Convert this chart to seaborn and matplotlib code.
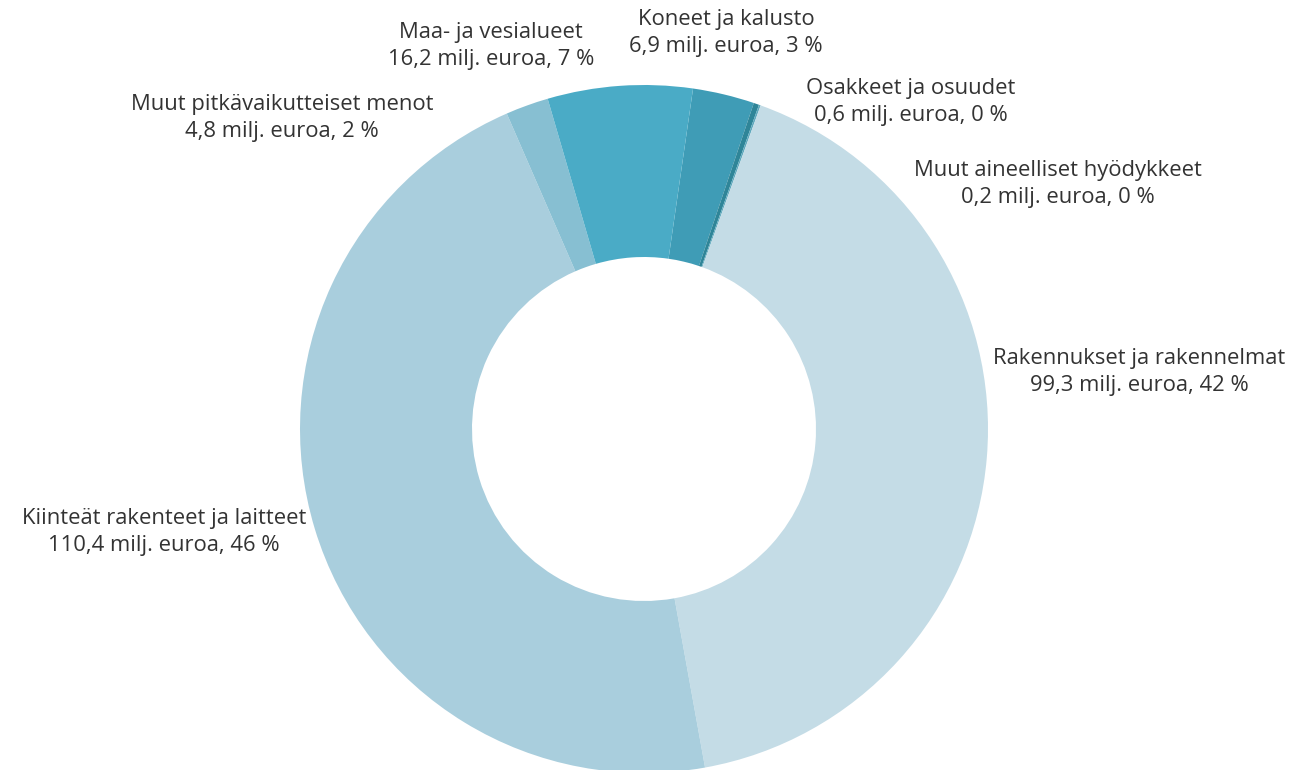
import matplotlib
matplotlib.use("Agg")
import matplotlib.pyplot as plt
import seaborn as sns

# categories in clockwise order, starting just right of 12 o'clock
categories = ["Koneet ja kalusto", "Osakkeet ja osuudet", "Muut aineelliset hyödykkeet",
              "Rakennukset ja rakennelmat", "Kiinteät rakenteet ja laitteet",
              "Muut pitkävaikutteiset menot", "Maa- ja vesialueet"]
values = [6.9, 0.6, 0.2, 99.3, 110.4, 4.8, 16.2]  # milj. euroa
colors = ["#3f9cb6", "#2f8598", "#5fa9bd", "#c4dce6", "#a9cedd", "#87bfd2", "#4aabc6"]

sns.set_theme(style="white")
plt.rcParams["font.family"] = ["Open Sans", "DejaVu Sans"]

fig = plt.figure(figsize=(12.94, 7.7), dpi=100)
ax = fig.add_axes([0, 0, 1, 1])

# pixel-like coordinates, y measured from the bottom
ax.pie(values, colors=colors, radius=344, center=(644, 341),
       startangle=81.8, counterclock=False,
       wedgeprops=dict(width=172, linewidth=0, antialiased=True))
ax.set_xlim(0, 1294)
ax.set_ylim(0, 770)
ax.set_aspect("equal")
ax.axis("off")

total = sum(values)
label_pos = {
    "Koneet ja kalusto": (726, 770 - 33),
    "Osakkeet ja osuudet": (911, 770 - 102),
    "Muut aineelliset hyödykkeet": (1058, 770 - 184),
    "Rakennukset ja rakennelmat": (1139, 770 - 372),
    "Kiinteät rakenteet ja laitteet": (164, 770 - 532),
    "Muut pitkävaikutteiset menot": (282, 770 - 118),
    "Maa- ja vesialueet": (491, 770 - 46),
}
for name, val in zip(categories, values):
    pct = round(val / total * 100)
    txt = f"{name}\n{val:.1f}".replace(".", ",") + f" milj. euroa, {pct} %"
    x, y = label_pos[name]
    ax.text(x, y, txt, ha="center", va="center", fontsize=15.8,
            color="#333333", linespacing=1.4)

fig.savefig("out.png", dpi=100)
